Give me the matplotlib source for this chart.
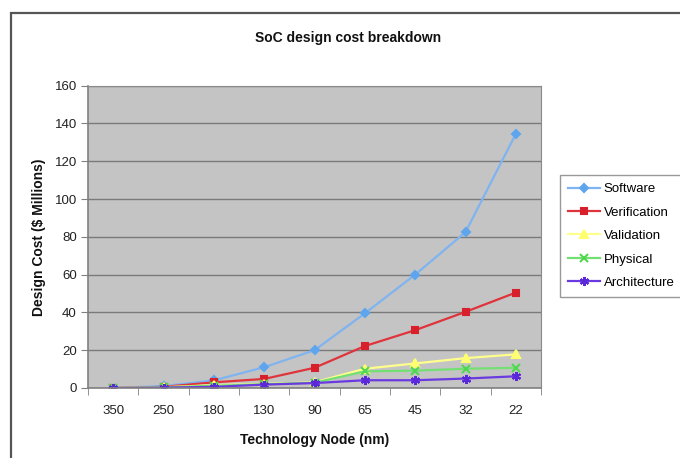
import matplotlib
matplotlib.use("Agg")
import matplotlib.pyplot as plt
from matplotlib.patches import Rectangle
import numpy as np

plt.rcParams['font.family'] = ['Liberation Sans', 'DejaVu Sans']

nodes = ["350", "250", "180", "130", "90", "65", "45", "32", "22"]
software = [0, 1, 4, 11, 20, 39.5, 60, 82.5, 134.5]
verification = [0, 0.6, 3, 4.8, 10.7, 22.2, 30.6, 40.3, 50.5]
validation = [0, 0.4, 1.5, 2.2, 3, 10.2, 13, 15.8, 17.8]
physical = [0, 0.3, 1.2, 2, 2.8, 8.8, 9.2, 10.2, 10.7]
architecture = [0, 0.2, 0.6, 1.8, 2.6, 4.1, 4.1, 5, 6.2]

series = [
    ("Software", software, "#7FB4F0", "#5FA5EE", "D", 4.5),
    ("Verification", verification, "#E0343C", "#D8202C", "s", 5),
    ("Validation", validation, "#FFFF8C", "#FFFF70", "^", 5.5),
    ("Physical", physical, "#74E074", "#50D850", "x", 5.5),
    ("Architecture", architecture, "#6A3AE0", "#5A28D8", (6, 2, 0), 6.5),
]

W, H = 680, 458
fig = plt.figure(figsize=(W / 100, H / 100), dpi=100)
fig.patch.set_facecolor("white")

# outer chart frame (extends beyond the image edges)
fig.patches.append(Rectangle((11 / W, -0.1), 1.2, 1 - 13 / H + 0.1,
                             transform=fig.transFigure, fill=False,
                             edgecolor="#555555", linewidth=1.6))

ax = fig.add_axes([88 / W, 1 - 388 / H, (541 - 88) / W, (388 - 85.7) / H])
ax.set_facecolor("#C4C4C4")

x = np.arange(len(nodes))
for name, vals, lc, mc, mk, ms in series:
    ax.plot(x, vals, color=lc, linewidth=1.6, marker=mk, markersize=ms,
            markerfacecolor=mc, markeredgecolor=mc, markeredgewidth=1.5,
            label=name)

ax.set_xlim(-0.5, len(nodes) - 0.5)
ax.set_ylim(0, 160)
ax.set_yticks(np.arange(0, 161, 20))
ax.yaxis.grid(True, color="#7A7A7A", linewidth=1.0)
ax.set_axisbelow(True)

ax.set_xticks(x)
ax.set_xticklabels(nodes)
ax.set_xticks(np.arange(-0.5, len(nodes), 1.0), minor=True)
ax.tick_params(axis="x", which="major", length=0, pad=12, labelsize=9.5, colors="#222222")
ax.tick_params(axis="x", which="minor", length=5, color="#808080", direction="out")
ax.tick_params(axis="y", length=5, color="#808080", labelsize=9.5, colors="#222222", pad=3)

for s in ["top", "right"]:
    ax.spines[s].set_color("#8A8A8A")
    ax.spines[s].set_linewidth(0.8)
for s in ["left", "bottom"]:
    ax.spines[s].set_color("#808080")
    ax.spines[s].set_linewidth(1.2)

ax.set_xlabel("Technology Node (nm)", fontsize=10, fontweight="bold", labelpad=12, color="#111111")
ax.set_ylabel("Design Cost ($ Millions)", fontsize=10, fontweight="bold", labelpad=6, color="#111111")

fig.text(348 / W, 1 - 38 / H, "SoC design cost breakdown", ha="center", va="center",
         fontsize=10, fontweight="bold", color="#111111")

leg = fig.legend(loc="upper left", bbox_to_anchor=(560 / W, 1 - 175 / H),
                 frameon=True, fancybox=False, fontsize=9.5, labelspacing=0.85,
                 handlelength=2.4, handletextpad=0.3, borderpad=0.6,
                 borderaxespad=0)
leg.get_frame().set_edgecolor("#808080")
leg.get_frame().set_linewidth(1.0)

fig.savefig("out.png", dpi=100, facecolor="white")
